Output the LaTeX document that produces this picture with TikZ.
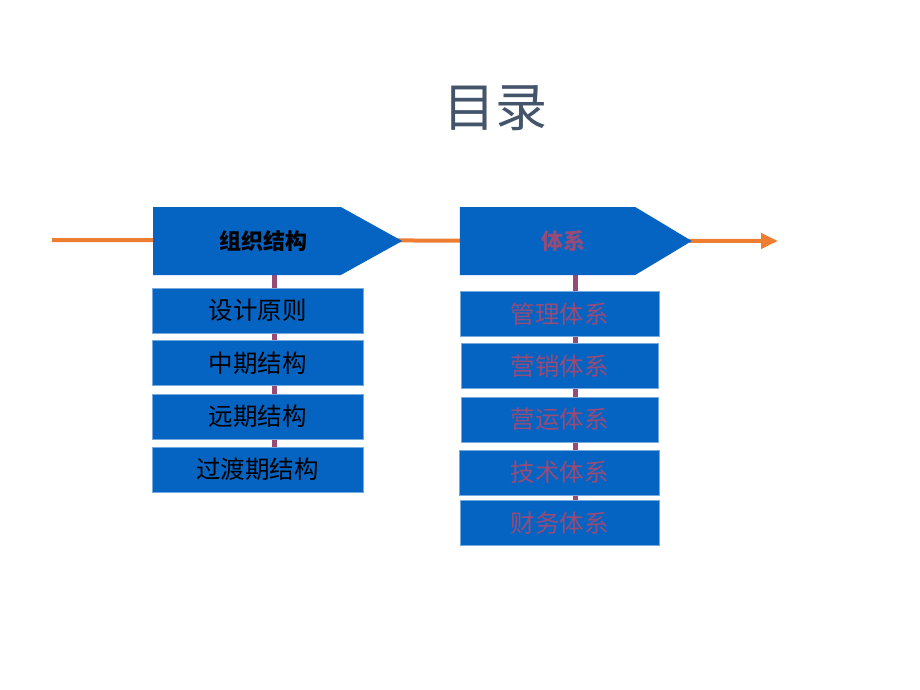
\documentclass[tikz,border=0pt]{standalone}
\usepackage{fontspec}
\setmainfont{Noto Sans CJK SC}
\usetikzlibrary{positioning, shapes.symbols, arrows.meta, backgrounds}

\definecolor{boxblue}{HTML}{0563C1}
\definecolor{flowline}{HTML}{ED7D31}
\definecolor{linkline}{HTML}{974C78}
\definecolor{titlegray}{HTML}{44546A}

\tikzset{
  header/.style={signal, signal to=east, fill=boxblue, draw=none, minimum height=68pt,
    inner sep=0pt, font=\fontsize{22}{26}\selectfont\bfseries},
  item/.style={rectangle, fill=boxblue, draw=boxblue!55!white, line width=0.8pt,
    minimum height=45pt, inner sep=0pt, font=\fontsize{24.5}{28}\selectfont},
  flow/.style={flowline, line width=4pt, -{Triangle[length=17pt, width=15pt]}},
  link/.style={linkline, line width=5pt},
}

\begin{document}
\begin{tikzpicture}[x=1pt, y=-1pt, node distance=7pt]
        \useasboundingbox (0,0) rectangle (920,690);
        \node[font=\fontsize{52}{60}\selectfont, text=titlegray] (title) at (495,108) {目录};

        % left column
        \node[header, minimum width=249pt, signal pointer angle=58] (org) at (247,241) {\hspace*{32pt}组织结构};
        \node[item, minimum width=211pt] (l1) at (257.5,310.5) {设计原则};
        \node[item, minimum width=211pt] (l2) [below=of l1] {中期结构};
        \node[item, minimum width=211pt] (l3) [below=7.5pt of l2] {远期结构};
        \node[item, minimum width=211pt] (l4) [below=of l3] {过渡期结构};

        % right column
        \node[header, minimum width=232pt, signal pointer angle=62, text=linkline] (sys) at (547.5,241) {\hspace*{31pt}体系};
        \node[item, minimum width=199pt, text=linkline] (r1) at (559.5,314) {管理体系};
        \node[item, minimum width=197pt, text=linkline] (r2) [below=6pt of r1] {营销体系};
        \node[item, minimum width=197pt, text=linkline] (r3) [below=8pt of r2] {营运体系};
        \node[item, minimum width=200pt, text=linkline] (r4) [below=of r3] {技术体系};
        \node[item, minimum width=199pt, text=linkline] (r5) [below=5pt of r4] {财务体系};

        \coordinate (start) at (52,240);
        \coordinate (stop) at (778,241);
        \begin{scope}[on background layer]
          \draw[flow] (start) -- (stop);
          \draw[link] (org.south -| 274,0) -- (l4.center -| 274,0);
          \draw[link] (sys.south -| 575,0) -- (r5.center -| 575,0);
        \end{scope}
\end{tikzpicture}
\end{document}
